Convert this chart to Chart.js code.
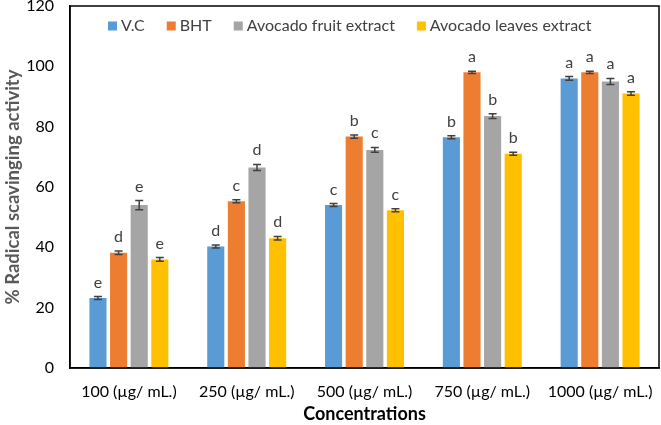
<!DOCTYPE html>
<html>
<head>
<meta charset="utf-8">
<script src="https://cdn.jsdelivr.net/npm/chart.js@4.4.0/dist/chart.umd.min.js"></script>
<style>
html,body{margin:0;padding:0;background:#fff;}
#wrap{width:661px;height:425px;}
</style>
</head>
<body>
<div id="wrap"><canvas id="c" width="661" height="425"></canvas></div>
<script>
const categories = ["100 (µg/ mL.)", "250 (µg/ mL.)", "500 (µg/ mL.)", "750 (µg/ mL.)", "1000 (µg/ mL.)"];
const seriesNames = ["V.C", "BHT", "Avocado fruit extract", "Avocado leaves extract"];
const vcValues = [23.2, 40.3, 54.0, 76.5, 96.0];
const bhtValues = [38.2, 55.3, 76.7, 98.0, 98.0];
const fruitValues = [54.0, 66.5, 72.3, 83.5, 95.0];
const leavesValues = [36.0, 43.0, 52.3, 71.0, 91.0];
const vcErrors = [0.5, 0.5, 0.5, 0.5, 0.6];
const bhtErrors = [0.6, 0.5, 0.5, 0.4, 0.4];
const fruitErrors = [1.5, 1.0, 0.8, 0.8, 1.0];
const leavesErrors = [0.6, 0.6, 0.5, 0.5, 0.6];
const vcLetters = ["e", "d", "c", "b", "a"];
const bhtLetters = ["d", "c", "b", "a", "a"];
const fruitLetters = ["e", "d", "c", "b", "a"];
const leavesLetters = ["e", "d", "c", "b", "a"];
const yTicks = [0, 20, 40, 60, 80, 100, 120];

const colors = ["#5B9BD5", "#ED7D31", "#A5A5A5", "#FFC000"];
const values = [vcValues, bhtValues, fruitValues, leavesValues];
const errors = [vcErrors, bhtErrors, fruitErrors, leavesErrors];
const letters = [vcLetters, bhtLetters, fruitLetters, leavesLetters];
const FONT = "Lato, 'Open Sans', sans-serif";

const extras = {
  id: 'extras',
  afterDatasetsDraw(chart) {
    const ctx = chart.ctx;
    const y = chart.scales.y;
    const a = chart.chartArea;
    ctx.save();
    chart.data.datasets.forEach((ds, di) => {
      const meta = chart.getDatasetMeta(di);
      meta.data.forEach((bar, i) => {
        const v = ds.data[i];
        const e = errors[di][i];
        const x = bar.x;
        const yTop = y.getPixelForValue(v + e);
        const yBot = y.getPixelForValue(v - e);
        ctx.strokeStyle = '#404040';
        ctx.lineWidth = 1.5;
        ctx.beginPath();
        ctx.moveTo(x, yTop); ctx.lineTo(x, yBot);
        ctx.moveTo(x - 4, yTop); ctx.lineTo(x + 4, yTop);
        ctx.moveTo(x - 4, yBot); ctx.lineTo(x + 4, yBot);
        ctx.stroke();
        ctx.fillStyle = '#404040';
        ctx.font = "16px " + FONT;
        ctx.textAlign = 'center';
        ctx.textBaseline = 'alphabetic';
        ctx.fillText(letters[di][i], x, yTop - 9);
      });
    });
    // legend
    ctx.font = "16px " + FONT;
    ctx.textBaseline = 'middle';
    ctx.textAlign = 'left';
    let lx = a.left + 38;
    const ly = a.top + 20;
    chart.data.datasets.forEach((ds) => {
      ctx.fillStyle = ds.backgroundColor;
      ctx.fillRect(lx, ly - 4.5, 9, 9);
      lx += 13;
      ctx.fillStyle = '#404040';
      ctx.fillText(ds.label, lx, ly);
      lx += ctx.measureText(ds.label).width + 22;
    });
    ctx.strokeStyle = '#000';
    ctx.lineWidth = 1.5;
    ctx.strokeRect(a.left, a.top, a.right - a.left, a.bottom - a.top);
    ctx.restore();
  }
};

new Chart(document.getElementById('c'), {
  type: 'bar',
  data: {
    labels: categories,
    datasets: seriesNames.map((n, i) => ({
      label: n,
      data: values[i],
      backgroundColor: colors[i],
      borderWidth: 0,
      categoryPercentage: 0.70,
      barPercentage: 0.83
    }))
  },
  options: {
    responsive: false,
    animation: false,
    devicePixelRatio: 1,
    layout: { padding: { top: 6, right: 2, left: 0, bottom: 0 } },
    plugins: {
      legend: { display: false },
      tooltip: { enabled: false }
    },
    scales: {
      x: {
        afterFit(s) { s.height = 57; s.paddingLeft = 0; s.paddingRight = 0; },
        grid: { display: false, drawTicks: false },
        border: { color: '#000', width: 1.5 },
        ticks: { color: '#000', font: { family: FONT, size: 16 }, padding: 14 },
        title: { display: true, text: 'Concentrations', color: '#000', font: { family: FONT, size: 18, weight: 'bold' }, padding: { top: 4, bottom: 0 } }
      },
      y: {
        min: 0, max: 120,
        afterFit(s) { s.width = 70; s.paddingTop = 0; s.paddingBottom = 0; },
        afterBuildTicks(scale) { scale.ticks = yTicks.map(v => ({ value: v })); },
        grid: { display: false, drawTicks: false },
        border: { color: '#000', width: 1.5 },
        ticks: { color: '#000', font: { family: FONT, size: 16 }, padding: 16 },
        title: { display: true, text: '% Radical scavinging activity', color: '#595959', font: { family: FONT, size: 18.5, weight: 'bold' }, padding: { top: 2, bottom: 2 } }
      }
    }
  },
  plugins: [extras]
});
</script>
</body>
</html>
